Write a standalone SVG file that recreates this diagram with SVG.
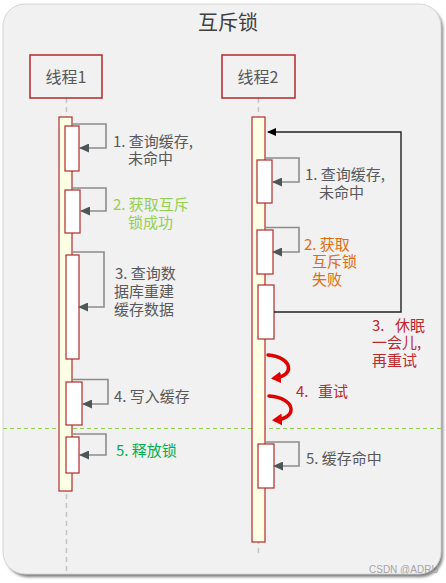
<svg xmlns="http://www.w3.org/2000/svg" width="446" height="583" viewBox="0 0 446 583">
  <style>
    .t { font-family: "Noto Sans CJK SC", "Liberation Sans", sans-serif; font-size: 15px; }
    .gray { fill: #595959; }
    .lgreen { fill: #92d050; }
    .green { fill: #00b050; }
    .orange { fill: #e46c0a; }
    .red { fill: #c0282d; }
    .head { stroke: #b22a2a; stroke-width: 1.5; fill: none; }
    .act { stroke: #b22a2a; stroke-width: 1.2; fill: #ffffe6; }
    .box { stroke: #b22a2a; stroke-width: 1.2; fill: #ffffff; }
    .life { stroke: #c4c4c4; stroke-width: 1.5; stroke-dasharray: 5 4; fill: none; }
    .self { stroke: #8c8c8c; stroke-width: 1.6; fill: none; marker-end: url(#ga); }
    .loop { stroke: #222; stroke-width: 1.4; fill: none; marker-end: url(#ba); }
    .retry { stroke: #e00000; stroke-width: 3.5; fill: none; marker-end: url(#ra); stroke-linecap: round; }
  </style>
  <defs>
    <marker id="ga" markerUnits="userSpaceOnUse" markerWidth="10" markerHeight="9" refX="9" refY="4.5" orient="auto">
      <path d="M0,0 L10,4.5 L0,9 z" fill="#4d5656"/>
    </marker>
    <marker id="ba" markerUnits="userSpaceOnUse" markerWidth="9" markerHeight="8" refX="8" refY="4" orient="auto">
      <path d="M0,0 L9,4 L0,8 z" fill="#000"/>
    </marker>
    <marker id="ra" markerUnits="userSpaceOnUse" markerWidth="11" markerHeight="12" refX="6" refY="6" orient="auto">
      <path d="M0,0 L10,6 L0,12 z" fill="#e00000"/>
    </marker>
    <filter id="sh" x="-5%" y="-5%" width="110%" height="110%">
      <feGaussianBlur stdDeviation="1.5"/>
    </filter>
  </defs>

  <rect width="446" height="583" fill="#ffffff"/>
  <g id="frame">
    <rect x="6" y="7" width="437" height="570" rx="22" fill="#7a7a7a" filter="url(#sh)"/>
    <rect x="3" y="4" width="438" height="570" rx="22" fill="#f1f1f1" stroke="#d4d4d4" stroke-width="1"/>
    <text x="228" y="30" text-anchor="middle" class="t" style="font-size:20px" fill="#404040">互斥锁</text>
  </g>

  <g id="separator">
    <line x1="3" y1="428.5" x2="441" y2="428.5" stroke="#92d050" stroke-width="1" stroke-dasharray="4 3"/>
  </g>

  <g id="thread1">
    <line class="life" x1="66.5" y1="98" x2="66.5" y2="574"/>
    <rect class="head" x="30" y="55" width="72" height="43"/>
    <text x="66" y="83" text-anchor="middle" class="t gray" style="font-size:16px">线程1</text>
    <rect class="act" x="59" y="117" width="13" height="374"/>
    <rect class="box" x="65" y="126" width="14" height="45"/>
    <rect class="box" x="65" y="190" width="15" height="43"/>
    <rect class="box" x="66" y="255" width="13" height="104"/>
    <rect class="box" x="66" y="382" width="16" height="43"/>
    <rect class="box" x="66" y="437" width="13" height="36"/>
  </g>

  <g id="thread2">
    <line class="life" x1="258.5" y1="98" x2="258.5" y2="557"/>
    <rect class="head" x="222" y="55" width="73" height="43"/>
    <text x="258" y="83" text-anchor="middle" class="t gray" style="font-size:16px">线程2</text>
    <rect class="act" x="252" y="117" width="13" height="425"/>
    <rect class="box" x="257" y="160" width="15" height="43"/>
    <rect class="box" x="257" y="230" width="16" height="44"/>
    <rect class="box" x="258" y="285" width="16" height="54"/>
    <rect class="box" x="258" y="444" width="16" height="44"/>
  </g>

  <g id="connectors">
    <path class="self" d="M72,124 H106 V148 H80"/>
    <path class="self" d="M72,188 H106 V211 H81"/>
    <path class="self" d="M72,252 H104 V307 H79"/>
    <path class="self" d="M72,379.5 H108 V404 H83"/>
    <path class="self" d="M72,434 H106 V455 H80"/>
    <path class="self" d="M265,158 H299 V182 H273"/>
    <path class="self" d="M265,227.5 H299 V252 H273"/>
    <path class="self" d="M265,442 H299 V466 H274"/>
    <path class="loop" d="M274,312 H401 V132 H268"/>
    <path class="retry" d="M268,355 C293,357 295,376 275,378"/>
    <path class="retry" d="M269,396 C296,398 298,418 276,420"/>
  </g>

  <g id="labels">
    <text class="t gray" x="113" y="147">1. 查询缓存,</text>
    <text class="t gray" x="128" y="164">未命中</text>
    <text class="t lgreen" x="113" y="210">2. 获取互斥</text>
    <text class="t lgreen" x="128" y="228">锁成功</text>
    <text class="t gray" x="115" y="279">3. 查询数</text>
    <text class="t gray" x="114" y="297">据库重建</text>
    <text class="t gray" x="114" y="315">缓存数据</text>
    <text class="t gray" x="114" y="402">4. 写入缓存</text>
    <text class="t green" x="116" y="456">5. 释放锁</text>

    <text class="t gray" x="305" y="180">1. 查询缓存,</text>
    <text class="t gray" x="319" y="198">未命中</text>
    <text class="t orange" x="304" y="250">2. 获取</text>
    <text class="t orange" x="312" y="267">互斥锁</text>
    <text class="t orange" x="312" y="285">失败</text>
    <text class="t red" x="372" y="331">3.<tspan x="395">休眠</tspan></text>
    <text class="t red" x="372" y="348">一会儿,</text>
    <text class="t red" x="372" y="366">再重试</text>
    <text class="t red" x="296" y="397">4.<tspan x="318">重试</tspan></text>
    <text class="t gray" x="306" y="464">5. 缓存命中</text>

    <text x="369" y="573" font-family="Liberation Sans, sans-serif" font-size="10" fill="#a6a6a6">CSDN @ADRU</text>
  </g>
</svg>
